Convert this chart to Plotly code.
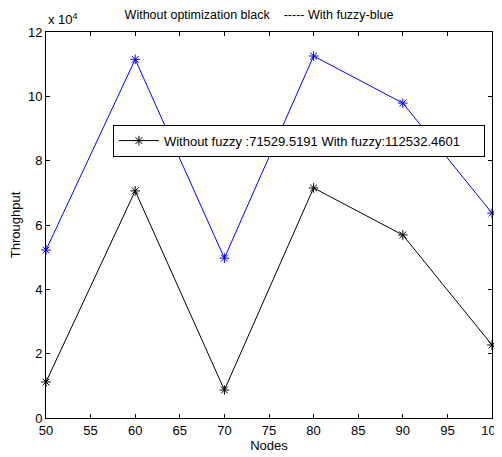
import plotly.graph_objects as go

nodes = [50, 60, 70, 80, 90, 100]
without_fuzzy = [11200, 70600, 8700, 71529.5191, 56900, 22700]
with_fuzzy = [52200, 111500, 49700, 112532.4601, 97900, 63700]
ytick_vals = [0, 20000, 40000, 60000, 80000, 100000, 120000]
ytick_text = ["0", "2", "4", "6", "8", "10", "12"]
xtick_vals = [50, 55, 60, 65, 70, 75, 80, 85, 90, 95, 100]

legend_name = "Without fuzzy :71529.5191 With fuzzy:112532.4601\u00a0\u00a0\u00a0\u00a0\u00a0"
title_text = "Without optimization black    ----- With fuzzy-blue"

fig = go.Figure()
fig.add_trace(go.Scatter(
    x=nodes, y=with_fuzzy, mode="lines+markers",
    line=dict(color="#0000ff", width=1),
    marker=dict(symbol="asterisk-open", size=8, color="#0000ff", line=dict(color="#0000ff", width=1)),
    showlegend=False, cliponaxis=False,
))
fig.add_trace(go.Scatter(
    x=nodes, y=without_fuzzy, mode="lines+markers", name=legend_name,
    line=dict(color="#000000", width=1),
    marker=dict(symbol="asterisk-open", size=8, color="#000000", line=dict(color="#000000", width=1)),
    cliponaxis=False,
))

axis_common = dict(
    showgrid=False, zeroline=False, showline=True, linecolor="black", linewidth=1,
    mirror="ticks", ticks="inside", ticklen=4, tickcolor="black",
    tickfont=dict(size=13, color="black"),
)
fig.update_xaxes(range=[50, 100], tickvals=xtick_vals,
                 title=dict(text="Nodes", font=dict(size=13, color="black"), standoff=0),
                 automargin=False, **axis_common)
fig.update_yaxes(range=[0, 120000], tickvals=ytick_vals, ticktext=ytick_text,
                 title=dict(text="Throughput", font=dict(size=13, color="black"), standoff=17),
                 automargin=False, **axis_common)

fig.update_layout(
    width=502, height=457, autosize=False,
    margin=dict(l=38, r=18, t=24, b=47),
    paper_bgcolor="white", plot_bgcolor="white",
    font=dict(family="Liberation Sans, Arial, sans-serif", size=13, color="black"),
    title=dict(text=title_text, x=0.5, xanchor="center", y=0.985, yanchor="middle",
               font=dict(size=12.5, color="black")),
    legend=dict(x=0.15, y=0.76, xanchor="left", yanchor="top",
                bgcolor="white", bordercolor="black", borderwidth=1,
                font=dict(size=13, color="black"), itemwidth=40),
    annotations=[dict(text="x 10<sup>4</sup>", xref="paper", yref="paper", x=0.0, y=1.0,
                      xanchor="left", yanchor="bottom", showarrow=False, yshift=3,
                      font=dict(size=13, color="black"))],
)

fig.write_html("out.html")
